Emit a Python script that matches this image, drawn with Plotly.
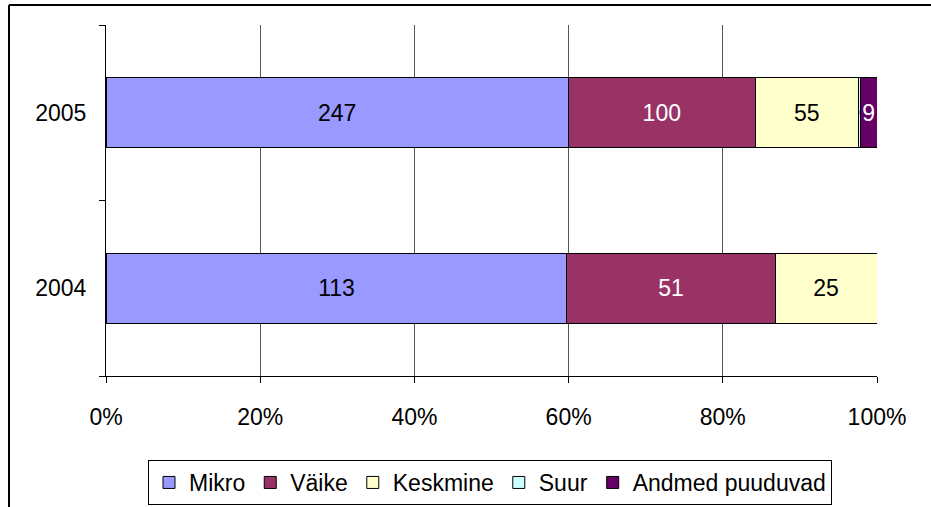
import plotly.graph_objects as go

years = ["2004", "2005"]
series = ["Mikro", "Väike", "Keskmine", "Suur", "Andmed puuduvad"]
values = {
    "Mikro": [113, 247],
    "Väike": [51, 100],
    "Keskmine": [25, 55],
    "Suur": [0, 1],
    "Andmed puuduvad": [0, 9],
}
colors = {
    "Mikro": "#9999FF",
    "Väike": "#993366",
    "Keskmine": "#FFFFCC",
    "Suur": "#CCFFFF",
    "Andmed puuduvad": "#660066",
}
text_colors = {
    "Mikro": "black",
    "Väike": "white",
    "Keskmine": "black",
    "Suur": "black",
    "Andmed puuduvad": "white",
}
tick_vals = [0, 20, 40, 60, 80, 100]
tick_text = ["0%", "20%", "40%", "60%", "80%", "100%"]

FONT = "Liberation Sans, Arial"
FS = 23

totals = [sum(values[s][i] for s in series) for i in range(len(years))]

fig = go.Figure()
for s in series:
    pct = [v / t * 100 for v, t in zip(values[s], totals)]
    fig.add_trace(go.Bar(
        y=years, x=pct, name=s, orientation="h",
        marker=dict(color=colors[s], line=dict(color="black", width=1)),
        text=[str(v) if v else "" for v in values[s]],
        textposition="inside", insidetextanchor="middle",
        constraintext="both" if s == "Suur" else "none",
        textfont=dict(color=text_colors[s], size=FS, family=FONT),
        hoverinfo="x+name",
    ))

L, R, T, B = 106, 877, 25, 376
W, H = 931, 507
pw, ph = R - L, B - T

def px(x):
    return (x - L) / pw

def py(y):
    return (B - y) / ph

fig.update_layout(
    width=W, height=H,
    barmode="stack", bargap=0.6,
    margin=dict(l=L, r=W - R, t=T, b=H - B, pad=0, autoexpand=False),
    paper_bgcolor="white", plot_bgcolor="white",
    font=dict(family=FONT, size=FS, color="black"),
    showlegend=True,
    legend=dict(
        orientation="h",
        xref="container", yref="container",
        x=490 / W, xanchor="center", y=1 - 460 / H, yanchor="top",
        bordercolor="black", borderwidth=1, font=dict(size=FS),
        traceorder="normal", itemwidth=30,
    ),
    xaxis=dict(
        range=[0, 100], tickvals=tick_vals, ticktext=tick_text,
        showgrid=True, gridcolor="#555555", gridwidth=1,
        showline=True, linecolor="black", linewidth=1,
        ticks="outside", ticklen=6, tickcolor="black",
        ticklabelstandoff=14,
        zeroline=False, fixedrange=True,
    ),
    yaxis=dict(
        categoryorder="array", categoryarray=years,
        showline=True, linecolor="black", linewidth=1,
        ticks="outside", ticklen=6, tickcolor="black", tickson="boundaries",
        showgrid=False, ticklabelstandoff=14, fixedrange=True,
    ),
    shapes=[
        dict(type="line", xref="paper", yref="paper",
             x0=px(9), x1=px(935), y0=py(5), y1=py(5),
             line=dict(color="black", width=2)),
        dict(type="line", xref="paper", yref="paper",
             x0=px(9), x1=px(9), y0=py(5), y1=py(512),
             line=dict(color="black", width=2)),
    ],
)

fig.write_html(
    "out.html",
    config={"displayModeBar": False},
    post_script="document.body.style.margin='0';document.body.style.overflow='hidden';",
)
